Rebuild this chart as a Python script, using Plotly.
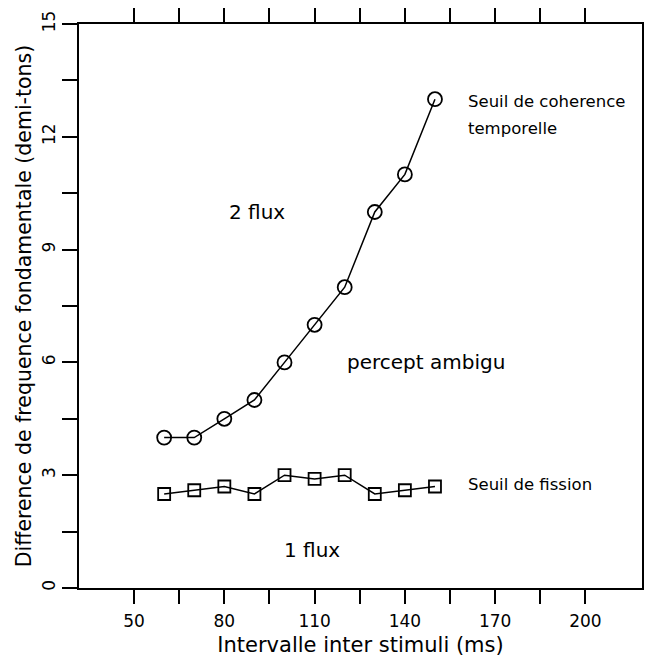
import plotly.graph_objects as go

x_vals = [60, 70, 80, 90, 100, 110, 120, 130, 140, 150]
coherence = [4, 4, 4.5, 5, 6, 7, 8, 10, 11, 13]
fission = [2.5, 2.6, 2.7, 2.5, 3.0, 2.9, 3.0, 2.5, 2.6, 2.7]

x_tickvals = [50, 65, 80, 95, 110, 125, 140, 155, 170, 185, 200]
x_ticktext = ["50", "", "80", "", "110", "", "140", "", "170", "", "200"]
y_tickvals = [0, 1.5, 3, 4.5, 6, 7.5, 9, 10.5, 12, 13.5, 15]
y_ticktext = ["0", "", "3", "", "6", "", "9", "", "12", "", "15"]

FONT = "DejaVu Sans"

fig = go.Figure()
fig.add_trace(go.Scatter(
    x=x_vals, y=coherence, mode="lines+markers",
    line=dict(color="black", width=1.5),
    marker=dict(symbol="circle-open", size=14, color="black", line=dict(width=1.8)),
    showlegend=False, cliponaxis=False))
fig.add_trace(go.Scatter(
    x=x_vals, y=fission, mode="lines+markers",
    line=dict(color="black", width=1.5),
    marker=dict(symbol="square-open", size=12, color="black", line=dict(width=1.8)),
    showlegend=False, cliponaxis=False))

ann = [
    dict(x=91, y=10, text="2 flux", xanchor="center", size=20),
    dict(x=147, y=6, text="percept ambigu", xanchor="center", size=20),
    dict(x=109, y=1, text="1 flux", xanchor="center", size=20),
    dict(x=160.3, y=2.75, text="Seuil de fission", xanchor="left", size=16.5),
    dict(x=160.3, y=12.95, text="Seuil de coherence", xanchor="left", size=16.5),
    dict(x=160.3, y=12.23, text="temporelle", xanchor="left", size=16.5),
]
for a in ann:
    fig.add_annotation(x=a["x"], y=a["y"], text=a["text"], showarrow=False,
                       xanchor=a["xanchor"], yanchor="middle",
                       font=dict(family=FONT, size=a["size"], color="black"))

fig.update_layout(
    width=648, height=657,
    margin=dict(l=79, r=6, t=24, b=69),
    plot_bgcolor="white", paper_bgcolor="white",
    font=dict(family=FONT, color="black"),
    xaxis=dict(
        range=[31.7, 218.8], tickmode="array", tickvals=x_tickvals, ticktext=x_ticktext,
        ticks="outside", ticklen=14, tickwidth=2, tickcolor="black",
        ticklabelstandoff=3, automargin=False,
        showline=True, linecolor="black", linewidth=2, mirror="ticks",
        showgrid=False, zeroline=False,
        tickfont=dict(size=17),
        title=dict(text="Intervalle inter stimuli (ms)", font=dict(size=21), standoff=9),
    ),
    yaxis=dict(
        range=[0, 15], tickmode="array", tickvals=y_tickvals, ticktext=y_ticktext,
        ticks="outside", ticklen=15, tickwidth=2, tickcolor="black",
        automargin=False,
        showline=True, linecolor="black", linewidth=2, mirror=True,
        showgrid=False, zeroline=False,
        tickangle=-90,
        tickfont=dict(size=17),
        title=dict(text="Difference de frequence fondamentale (demi-tons)", font=dict(size=20.5), standoff=2),
    ),
)

fig.write_html("out.html")
